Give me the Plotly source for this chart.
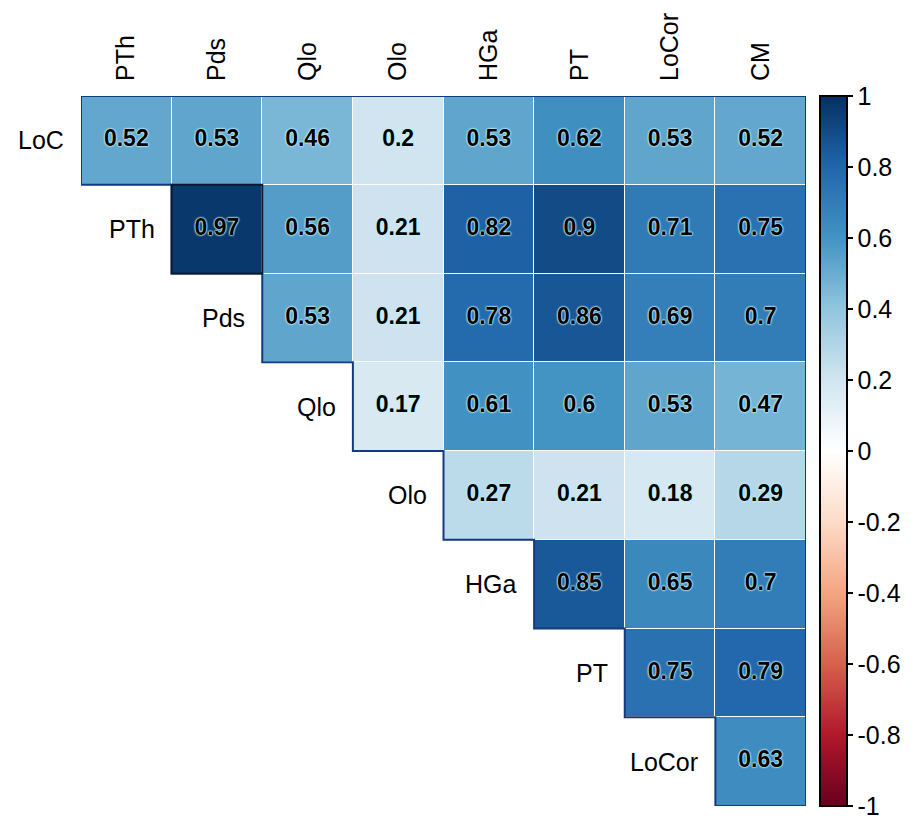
import plotly.graph_objects as go

# Variables (rows run LoC..LoCor, columns run PTh..CM)
row_names = ["LoC", "PTh", "Pds", "Qlo", "Olo", "HGa", "PT", "LoCor"]
col_names = ["PTh", "Pds", "Qlo", "Olo", "HGa", "PT", "LoCor", "CM"]

# Upper-triangle correlation coefficients, one list per row (starting at the diagonal column)
r_LoC = [0.52, 0.53, 0.46, 0.2, 0.53, 0.62, 0.53, 0.52]
r_PTh = [0.97, 0.56, 0.21, 0.82, 0.9, 0.71, 0.75]
r_Pds = [0.53, 0.21, 0.78, 0.86, 0.69, 0.7]
r_Qlo = [0.17, 0.61, 0.6, 0.53, 0.47]
r_Olo = [0.27, 0.21, 0.18, 0.29]
r_HGa = [0.85, 0.65, 0.7]
r_PT = [0.75, 0.79]
r_LoCor = [0.63]
rows = [r_LoC, r_PTh, r_Pds, r_Qlo, r_Olo, r_HGa, r_PT, r_LoCor]

cbar_ticks = [1, 0.8, 0.6, 0.4, 0.2, 0, -0.2, -0.4, -0.6, -0.8, -1]

FONT = "Liberation Sans, Arial"
LABEL_SIZE = 25

n = len(col_names)
m = len(rows)
z = [[None] * i + list(vals) for i, vals in enumerate(rows)]

# corrplot-style RdBu palette
rdbu = ["#67001F", "#B2182B", "#D6604D", "#F4A582", "#FDDBC7", "#FFFFFF",
        "#D1E5F0", "#92C5DE", "#4393C3", "#2166AC", "#053061"]
colorscale = [[k / (len(rdbu) - 1), c] for k, c in enumerate(rdbu)]

fig = go.Figure()
fig.add_trace(go.Heatmap(
    z=z, x=list(range(n)), y=list(range(m)),
    zmin=-1, zmax=1, colorscale=colorscale, xgap=1, ygap=1,
    hoverongaps=False,
    colorbar=dict(
        x=(822 - 81) / 727, xanchor="left", xpad=0,
        y=0.5, yanchor="middle", len=1, lenmode="fraction", ypad=0,
        thickness=27, outlinewidth=2, outlinecolor="black",
        tickvals=cbar_ticks, ticktext=[f"{t:g}" for t in cbar_ticks],
        ticks="outside", ticklen=5, tickwidth=2, tickcolor="black",
        tickfont=dict(family=FONT, size=LABEL_SIZE, color="black"),
    ),
))

# Coefficient labels
tx, ty, tt = [], [], []
for i, row in enumerate(z):
    for j, v in enumerate(row):
        if v is not None:
            tx.append(j)
            ty.append(i)
            tt.append(f"{v:g}")
halo = "#bdf3ff"
fig.add_trace(go.Scatter(
    x=tx, y=ty, text=tt, mode="text", hoverinfo="skip", showlegend=False,
    textfont=dict(family=FONT, size=23, color="black", weight="bold",
                  shadow=f"0 0 2px {halo}, 0 0 2px {halo}, 0 0 2px {halo}, 0 0 1px {halo}"),
))

# Row labels to the left of each diagonal cell
for i, name in enumerate(row_names):
    fig.add_annotation(x=i - 0.5, y=i, text=name, showarrow=False,
                       xanchor="right", yanchor="middle", xshift=-15,
                       font=dict(family=FONT, size=LABEL_SIZE, color="black"))

# Staircase outline of the upper triangle
stair_pts = [(-0.5, -0.5), (n - 0.5, -0.5), (n - 0.5, m - 0.5)]
for i in range(m - 1, -1, -1):
    stair_pts.append((i - 0.5, i + 0.5))
    stair_pts.append((i - 0.5, i - 0.5))
path = "M " + " L ".join(f"{px},{py}" for px, py in stair_pts) + " Z"
fig.add_shape(type="path", path=path, xref="x", yref="y",
              line=dict(color="#123a80", width=2), fillcolor="rgba(0,0,0,0)")

# Dark frame on the strongest coefficient
fig.add_shape(type="rect", x0=0.5, x1=1.5, y0=0.5, y1=1.5, xref="x", yref="y",
              line=dict(color="#0b1a33", width=2))

fig.update_xaxes(
    range=[-0.5, n - 0.5], side="top", tickvals=list(range(n)), ticktext=col_names,
    tickangle=-90, showgrid=False, zeroline=False, showline=False, ticks="",
    ticklabelstandoff=14,
    tickfont=dict(family=FONT, size=LABEL_SIZE, color="black"),
)
fig.update_yaxes(range=[m - 0.5, -0.5], visible=False,
                 showgrid=False, zeroline=False)
fig.update_layout(
    width=914, height=820, margin=dict(l=81, r=106, t=96, b=14),
    paper_bgcolor="white", plot_bgcolor="white", showlegend=False,
)

fig.write_html("out.html")
